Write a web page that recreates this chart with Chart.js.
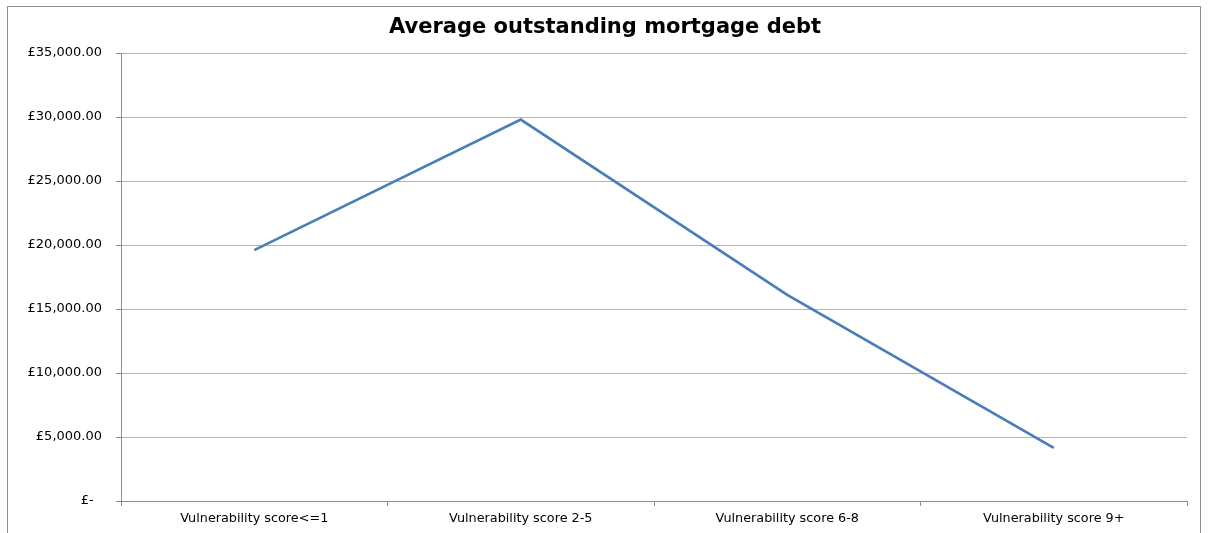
<html lang="en">
<head>
  <meta charset="UTF-8">
  <title>Average outstanding mortgage debt</title>
  <script src="https://cdn.jsdelivr.net/npm/chart.js"></script>
  <style>
    html, body { margin: 0; padding: 0; background: #fff; }
    #wrap { width: 1210px; height: 533px; }
  </style>
  <script>
    const categories = ['Vulnerability score<=1', 'Vulnerability score 2-5', 'Vulnerability score 6-8', 'Vulnerability score 9+']
    const debt = [19600, 29800, 16100, 4150]
    const yTicks = [0, 5000, 10000, 15000, 20000, 25000, 30000, 35000]
    const titleText = 'Average outstanding mortgage debt'

    const pounds = v => v === 0 ? '£-  ' : '£' + v.toLocaleString('en-GB', { minimumFractionDigits: 2, maximumFractionDigits: 2 })

    // outer frame + title drawn by hand so the plot area stays put
    const frame = {
      id: 'frame',
      beforeDraw(c) {
        const ctx = c.ctx
        ctx.save()
        ctx.fillStyle = '#fff'
        ctx.fillRect(0, 0, c.width, c.height)
        ctx.strokeStyle = '#8c8c8c'
        ctx.lineWidth = 1
        ctx.strokeRect(7.5, 6.5, 1193, 560)
        ctx.fillStyle = '#000'
        ctx.font = 'bold 21px "DejaVu Sans"'
        ctx.textAlign = 'center'
        ctx.textBaseline = 'middle'
        ctx.fillText(titleText, 605, 28)
        ctx.restore()
      }
    }

    window.onload = () => {
      const viz = document.getElementById('viz')
      new Chart(viz, {
        type: 'line',
        data: {
          labels: categories,
          datasets: [{
            data: debt,
            borderColor: '#4a7ebb',
            borderWidth: 2.75,
            pointRadius: 0,
            tension: 0
          }]
        },
        options: {
          responsive: false,
          animation: false,
          layout: { padding: { top: 53, right: 23, left: 0, bottom: 0 } },
          plugins: {
            legend: { display: false },
            tooltip: { enabled: false }
          },
          scales: {
            x: {
              offset: true,
              afterFit: s => { s.height = 32 },
              grid: { offset: true, drawOnChartArea: false, drawTicks: true, tickLength: 5, color: '#8c8c8c' },
              border: { color: '#8c8c8c' },
              ticks: { color: '#000', font: { family: 'DejaVu Sans', size: 12.8 }, padding: 5, maxRotation: 0 }
            },
            y: {
              min: 0,
              max: 35000,
              afterFit: s => { s.width = 121 },
              afterBuildTicks: s => { s.ticks = yTicks.map(v => ({ value: v })) },
              grid: { color: '#b4b4b4', tickLength: 5, tickColor: '#8c8c8c' },
              border: { color: '#8c8c8c' },
              ticks: { color: '#000', font: { family: 'DejaVu Sans', size: 13 }, padding: 14, callback: v => pounds(v) }
            }
          }
        },
        plugins: [frame]
      })
    }
  </script>
</head>
<body>
  <div id="wrap">
    <canvas id="viz" width="1210" height="533"></canvas>
  </div>
</body>
</html>
